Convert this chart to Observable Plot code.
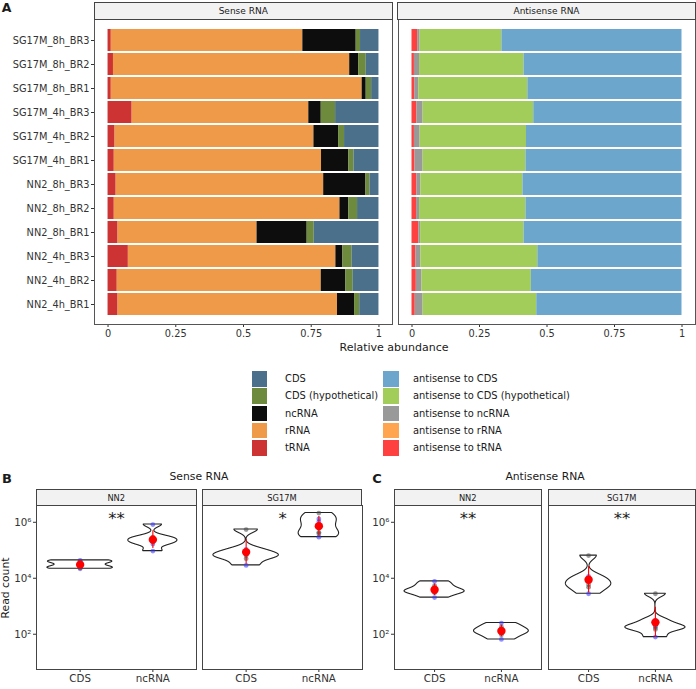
<!DOCTYPE html>
<html><head><meta charset="utf-8">
<script src="https://cdn.jsdelivr.net/npm/d3@7"></script>
<script src="https://cdn.jsdelivr.net/npm/@observablehq/plot@0.6"></script>
<style>
body{margin:0;background:#fff;font-family:"DejaVu Sans",sans-serif;}
#root{position:relative;width:696px;height:689px;overflow:hidden;background:#fff;}
.abs{position:absolute;}
.strip{position:absolute;box-sizing:border-box;border:1px solid #444;background:#f2f2f2;color:#1a1a1a;display:flex;align-items:center;justify-content:center;white-space:nowrap;}
.t{position:absolute;white-space:nowrap;line-height:1;color:#1a1a1a;}
</style></head><body><div id="root"></div>
<script>
// ---------------- Panel A data ----------------
const samples = ["SG17M_8h_BR3","SG17M_8h_BR2","SG17M_8h_BR1","SG17M_4h_BR3","SG17M_4h_BR2","SG17M_4h_BR1",
                 "NN2_8h_BR3","NN2_8h_BR2","NN2_8h_BR1","NN2_4h_BR3","NN2_4h_BR2","NN2_4h_BR1"];
const senseLabels = ["CDS","CDS (hypothetical)","ncRNA","rRNA","tRNA"];
const senseColors = ["#4A708B","#6E8B3D","#0D0D0D","#EE9A49","#CD3333"];
const antisenseLabels = ["antisense to CDS","antisense to CDS (hypothetical)","antisense to ncRNA","antisense to rRNA","antisense to tRNA"];
const antisenseColors = ["#6CA6CD","#A2CD5A","#999999","#FFA54F","#FF4040"];

const sense_CDS   = [0.068,0.047,0.027,0.160,0.127,0.092,0.033,0.079,0.239,0.099,0.095,0.071];
const sense_hyp   = [0.016,0.028,0.020,0.053,0.022,0.019,0.015,0.032,0.026,0.034,0.027,0.019];
const sense_ncRNA = [0.197,0.033,0.015,0.046,0.091,0.101,0.156,0.033,0.185,0.026,0.091,0.063];
const sense_rRNA  = [0.707,0.872,0.926,0.652,0.734,0.765,0.766,0.833,0.513,0.766,0.753,0.810];
const sense_tRNA  = [0.012,0.020,0.012,0.089,0.026,0.023,0.030,0.023,0.037,0.075,0.034,0.037];

const anti_CDS   = [0.667,0.585,0.571,0.549,0.576,0.578,0.589,0.578,0.585,0.534,0.558,0.538];
const anti_hyp   = [0.303,0.387,0.404,0.410,0.394,0.381,0.378,0.394,0.383,0.433,0.405,0.421];
const anti_ncRNA = [0.009,0.019,0.015,0.023,0.021,0.030,0.015,0.011,0.007,0.019,0.021,0.029];
const anti_rRNA  = [0,0,0,0,0,0,0,0,0,0,0,0];
const anti_tRNA  = [0.021,0.009,0.010,0.018,0.009,0.011,0.018,0.017,0.025,0.014,0.016,0.012];

const xTicks = [0, 0.25, 0.5, 0.75, 1];

// ---------------- Panels B/C data (read counts) ----------------
const features = ["CDS","ncRNA"];
const timepoints = ["4h","4h","4h","8h","8h","8h"];
const timeColors = ["#3333ff","#444444"];
const sense_NN2_CDS     = [43600, 37200, 21900, 39800, 25100, 23400];
const sense_NN2_ncRNA   = [832000, 166000, 93300, 295000, 251000, 200000];
const sense_SG17M_CDS   = [107000, 74100, 28800, 550000, 64600, 50100];
const sense_SG17M_ncRNA = [1320000, 1050000, 295000, 2140000, 437000, 389000];
const anti_NN2_CDS      = [7760, 3310, 2040, 5500, 3980, 3020];
const anti_NN2_ncRNA    = [251, 120, 65, 182, 141, 95];
const anti_SG17M_CDS    = [11700, 8300, 2800, 64600, 5900, 4800];
const anti_SG17M_ncRNA  = [316, 195, 79, 2800, 174, 148];
const senseSig = ["**", "*"];
const antiSig  = ["**", "**"];
const yTicks = [1e2, 1e4, 1e6];

// ---------------- helpers ----------------
const root = document.getElementById("root");
function place(el, left, top){ const d=document.createElement("div"); d.className="abs"; d.style.left=left+"px"; d.style.top=top+"px"; d.appendChild(el); root.appendChild(d); }
function txt(x, y, s, size, opts={}){
  const d=document.createElement("div"); d.className="t"; d.textContent=s;
  d.style.left=x+"px"; d.style.top=y+"px"; d.style.fontSize=size+"px";
  if(opts.bold) d.style.fontWeight="bold";
  const ax = opts.anchor==="start"?"0":"-50%";
  d.style.transform=`translate(${ax},-50%)` + (opts.rotate?` rotate(${opts.rotate}deg)`:"");
  root.appendChild(d); return d;
}
function strip(x, y, w, h, s, size){
  const d=document.createElement("div"); d.className="strip";
  Object.assign(d.style,{left:x+"px",top:y+"px",width:w+"px",height:h+"px",fontSize:size+"px"});
  d.textContent=s; root.appendChild(d);
}
const baseStyle = {background:"transparent", fontFamily:"DejaVu Sans", color:"#333", overflow:"visible"};

function stackRows(labels, series){
  const rows=[];
  samples.forEach((s,i)=>{ for(let k=labels.length-1;k>=0;k--) rows.push({sample:s, cat:labels[k], value:series[k][i]}); });
  return rows;
}
function barPlot(labels, colors, series, {width, marginLeft, showY}){
  return Plot.plot({
    width, height:329, marginLeft, marginRight:1, marginTop:2, marginBottom:22,
    style:{...baseStyle, fontSize:"9.8px"},
    x:{domain:[-0.05,1.05], ticks:xTicks, tickFormat:d=>String(d), tickSize:3, tickPadding:3, label:null},
    y:{domain:samples, paddingInner:0.1, paddingOuter:0.15, tickSize:3, tickPadding:2, label:null, axis: showY?"left":null},
    color:{domain:labels, range:colors},
    marks:[
      Plot.barX(stackRows(labels, series), {x:"value", y:"sample", fill:"cat"}),
      Plot.frame({stroke:"#555"})
    ]
  });
}

// Panel A
place(barPlot(senseLabels, senseColors, [sense_CDS,sense_hyp,sense_ncRNA,sense_rRNA,sense_tRNA], {width:393, marginLeft:94, showY:true}), 0, 17);
place(barPlot(antisenseLabels, antisenseColors, [anti_CDS,anti_hyp,anti_ncRNA,anti_rRNA,anti_tRNA], {width:300, marginLeft:2, showY:false}), 395.5, 17);
strip(94, 2, 298.5, 18, "Sense RNA", 9);
strip(397, 2, 299, 18, "Antisense RNA", 9);
txt(6.5, 7.5, "A", 12.5, {bold:true});
txt(394, 347, "Relative abundance", 11);

// Legend
for(let i=0;i<5;i++){
  const top = 371 + i*17.25;
  [[251.5, senseColors[i], 285, senseLabels[i]],[383, antisenseColors[i], 413, antisenseLabels[i]]].forEach(([sx,c,tx,lab])=>{
    const sq=document.createElement("div"); sq.className="abs";
    Object.assign(sq.style,{left:sx+"px",top:top+"px",width:"15.5px",height:"15.5px",background:c});
    root.appendChild(sq);
    txt(tx, top+8, lab, 9.9, {anchor:"start"});
  });
}

// ---------------- violin panels ----------------
function nrd0(x){
  const s=d3.deviation(x); const xs=x.slice().sort(d3.ascending);
  const iqr=(d3.quantile(xs,0.75)-d3.quantile(xs,0.25))/1.34;
  let lo=Math.min(s,iqr); if(!(lo>0)) lo = s || 1;
  return 0.9*lo*Math.pow(x.length,-0.2);
}
function kde(x){
  const bw=nrd0(x), lo=d3.min(x), hi=d3.max(x), n=512, out=[];
  for(let i=0;i<n;i++){
    const t=lo+(hi-lo)*i/(n-1);
    const d=d3.mean(x, v=>Math.exp(-0.5*((t-v)/bw)**2)/(bw*Math.sqrt(2*Math.PI)));
    out.push({t,d});
  }
  return out;
}
const supMap={"0":"⁰","1":"¹","2":"²","3":"³","4":"⁴","5":"⁵","6":"⁶","7":"⁷","8":"⁸","9":"⁹","-":"⁻"};
const supFmt = d => "10" + String(Math.round(Math.log10(d))).split("").map(c=>supMap[c]).join("");

function countPlot(groupValues, sig, {width, marginLeft, showY}){
  const logs = groupValues.map(v=>v.map(Math.log10));
  const dens = logs.map(kde);
  const maxD = d3.max(dens.flat(), p=>p.d);
  const vdata=[], pts=[], summ=[];
  dens.forEach((ds,gi)=>ds.forEach(p=>vdata.push({g:gi, y:10**p.t, xl:gi+1-0.45*p.d/maxD, xr:gi+1+0.45*p.d/maxD})));
  groupValues.forEach((vals,gi)=>vals.forEach((v,j)=>pts.push({x:gi+1, y:v, time:timepoints[j]})));
  logs.forEach((l,gi)=>{ const m=d3.mean(l), s=d3.deviation(l); summ.push({x:gi+1, m:10**m, lo:10**(m-s), hi:10**(m+s)}); });
  return Plot.plot({
    width, height:185, marginLeft, marginRight:1, marginTop:1, marginBottom:20,
    style:{...baseStyle, fontSize:"10.3px"},
    x:{domain:[0.4,2.6], ticks:[1,2], tickFormat:d=>features[d-1], tickSize:3, tickPadding:2, label:null},
    y:{type:"log", domain:[10**0.74, 10**6.6], ticks:yTicks, tickFormat:supFmt, tickSize:3, tickPadding:2, label:null, axis: showY?"left":null},
    color:{domain:["4h","8h"], range:timeColors},
    marks:[
      Plot.areaX(vdata, {y:"y", x1:"xl", x2:"xr", z:"g", fill:"white", stroke:"#222", strokeWidth:1.1}),
      Plot.dot(pts, {x:"x", y:"y", fill:"time", r:2.4, fillOpacity:0.55}),
      Plot.ruleX(summ, {x:"x", y1:"lo", y2:"hi", stroke:"red", strokeWidth:1.1}),
      Plot.dot(summ, {x:"x", y:"m", fill:"red", r:4.2}),
      Plot.text([{x:1.5, y:10**6.12, label:sig}], {x:"x", y:"y", text:"label", fontSize:16.5, fill:"#1a1a1a"}),
      Plot.frame({stroke:"#444"})
    ]
  });
}

// Panel B
place(countPlot([sense_NN2_CDS, sense_NN2_ncRNA], senseSig[0], {width:197, marginLeft:36, showY:true}), 0, 504);
place(countPlot([sense_SG17M_CDS, sense_SG17M_ncRNA], senseSig[1], {width:162, marginLeft:1, showY:false}), 200.7, 504);
strip(36, 489, 160.5, 17, "NN2", 8.3);
strip(201.7, 489, 160.5, 17, "SG17M", 8.3);
txt(7, 478, "B", 13, {bold:true});
txt(199, 477, "Sense RNA", 10.8);
txt(6, 588, "Read count", 10.8, {rotate:-90});

// Panel C
place(countPlot([anti_NN2_CDS, anti_NN2_ncRNA], antiSig[0], {width:178, marginLeft:30, showY:true}), 364, 504);
place(countPlot([anti_SG17M_CDS, anti_SG17M_ncRNA], antiSig[1], {width:149, marginLeft:1, showY:false}), 547, 504);
strip(394, 489, 147.5, 17, "NN2", 8.3);
strip(548, 489, 147.5, 17, "SG17M", 8.3);
txt(377, 478, "C", 13, {bold:true});
txt(545, 477, "Antisense RNA", 10.8);
</script></body></html>
